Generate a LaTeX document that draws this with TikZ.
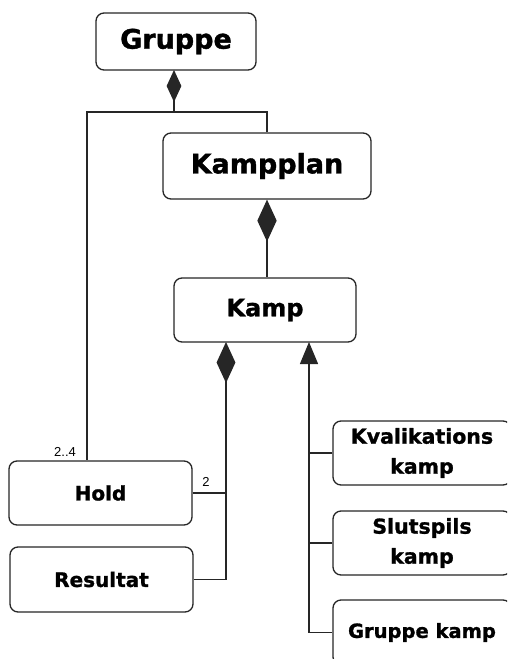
\documentclass[tikz,border=0pt]{standalone}
\usepackage{fontspec}
\setmainfont{DejaVu Sans}[BoldFeatures={FakeBold=1.2}]
\newfontfamily\labelfont{Liberation Sans}
\usetikzlibrary{arrows.meta}
\begin{document}
\begin{tikzpicture}[x=1pt,y=-1pt,
  line width=1.3pt,
  color=black!85,
  cls/.style={draw, fill=white, text=black, rounded corners=8pt, line width=1.3pt,
    minimum width=#1, inner sep=0pt, align=center, font=\bfseries},
  cls/.default=183pt,
  comp/.style={{Diamond[length=#1,width=0.46*#1]}-},
  gen/.style={{Triangle[length=22pt,width=18pt]}-},
  mult/.style={font=\labelfont\fontsize{13}{13}\selectfont, inner sep=0pt, text=black}
]
\useasboundingbox (0,0) rectangle (507,659);
\clip (0,0) rectangle (507,659);

% classes
\node[cls=160pt, minimum height=57pt, font=\bfseries\fontsize{27}{30}\selectfont] (gruppe) at (176,41.5) {Gruppe};
\node[cls=208pt, minimum height=66pt, font=\bfseries\fontsize{27}{30}\selectfont] (kampplan) at (267,166) {Kampplan};
\node[cls=182pt, minimum height=64pt, font=\bfseries\fontsize{24}{28}\selectfont] (kamp) at (265,310) {Kamp};
\node[cls, minimum height=64pt, font=\bfseries\fontsize{20}{24}\selectfont] (hold) at (100.5,493) {Hold};
\node[cls, minimum height=65pt, font=\bfseries\fontsize{20}{24}\selectfont] (resultat) at (101.5,579.5) {Resultat};
\node[cls=178pt, minimum height=64pt, font=\bfseries\fontsize{20.5}{30}\selectfont] (kval) at (422,453) {Kvalikations\\kamp};
\node[cls=178pt, minimum height=64pt, font=\bfseries\fontsize{20.5}{30}\selectfont] (slut) at (422,543) {Slutspils\\kamp};
\node[cls=178pt, minimum height=65pt, font=\bfseries\fontsize{19.5}{24}\selectfont] (gkamp) at (422,632.5) {Gruppe kamp};

% junction points
\coordinate (gtop) at (174,70);
\coordinate (gbar) at (87,112);
\coordinate (kd) at (226,342);
\coordinate (kt) at (309,342);

% Gruppe composition
\draw[comp=32pt] (gtop) -- (gtop |- gbar);
\draw (kampplan.north) |- (gbar) -- (gbar |- hold.north);

% Kampplan composition of Kamp
\draw[comp=42pt] (kampplan.south) -- (kampplan.south |- kamp.north);

% Kamp composition of Hold and Resultat
\draw[comp=41pt] (kd) -- (kd |- resultat.east) -- (resultat.east);
\draw (hold.east) -- (hold.east -| kd);

% Kamp specialisations
\draw[gen] (kt) -- (kt |- gkamp.west) -- (gkamp.west);
\draw (kval.west) -- (kval.west -| kt);
\draw (slut.west) -- (slut.west -| kt);

% multiplicities
\node[mult, anchor=base] (m24) at (65,456) {2..4};
\node[mult, anchor=base] (m2) at (206,486) {2};
\end{tikzpicture}
\end{document}
